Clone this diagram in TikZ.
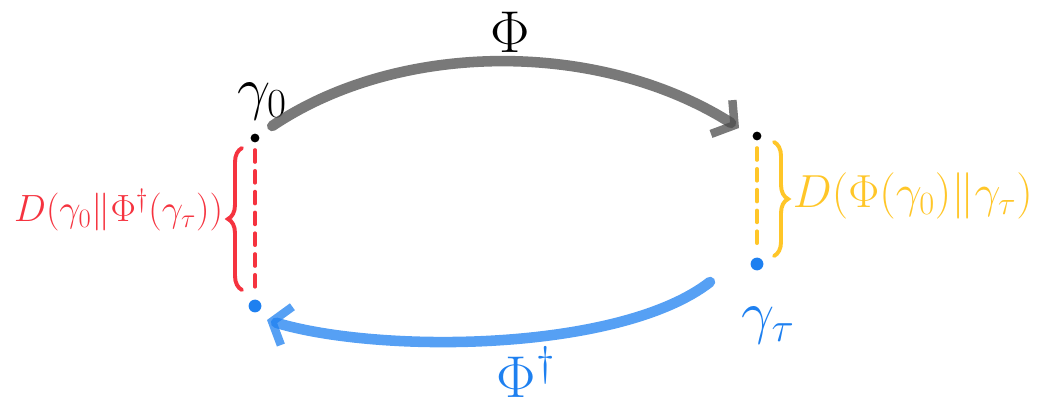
\RequirePackage{fix-cm}
\documentclass[tikz,border=0pt]{standalone}
\usetikzlibrary{arrows.meta,decorations.pathreplacing,positioning}
\definecolor{divred}{HTML}{F5333F}
\definecolor{divyellow}{HTML}{FFC628}
\definecolor{divblue}{HTML}{1E80F0}
\tikzset{
    blackdot/.style={circle,fill=black,inner sep=0pt,minimum size=0.22cm},
    bluedot/.style={circle,fill=divblue,inner sep=0pt,minimum size=0.32cm},
    chalk/.style={line width=7.5pt,line cap=round,opacity=0.75,
        -{Straight Barb[length=0.38cm,width=1.0cm,line width=6pt]}},
    gap/.style={line width=2.6pt,line cap=round,dash pattern=on 0.3cm off 0.22cm},
    curly/.style={line width=2.8pt,line cap=round,decorate,decoration={brace,amplitude=0.35cm}},
    biglbl/.style={font=\fontsize{42}{46}\selectfont},
    divlbl/.style={font=\fontsize{#1}{30}\selectfont}
}
\begin{document}
\begin{tikzpicture}
    \useasboundingbox (0,0) rectangle (26.05,10.25);
    % states
    \node[blackdot] (g0) at (6.375,6.8) {};
    \node[bluedot] (bg0) at (6.375,2.6) {};
    \node[blackdot] (pg0) at (18.925,6.85) {};
    \node[bluedot] (gt) at (18.925,3.65) {};
    \node[biglbl] (g0lbl) at (6.55,7.7) {$\gamma_0$};
    \node[biglbl,text=divblue] (gtlbl) at (19.2,2.1) {$\gamma_\tau$};
    % the two maps
    \draw[chalk,black!70] ([shift={(0.43,0.3)}]g0.center)
        .. controls (10,9.25) and (15,9.25) .. ([shift={(-0.45,0.2)}]pg0.center);
    \draw[chalk,divblue] ([shift={(-1.175,-0.45)}]gt.center)
        .. controls (15.5,1.45) and (9.5,1.4) .. ([shift={(0.3,-0.35)}]bg0.center);
    \node[biglbl] (phi) at (12.75,9.45) {$\Phi$};
    \node[biglbl,text=divblue] (phidag) at (13.15,0.95) {$\Phi^\dagger$};
    % divergences
    \draw[gap,divred] ([yshift=-0.3cm]g0.center) -- ([yshift=0.35cm]bg0.center);
    \draw[curly,divred] (6.05,3.0) -- (6.05,6.55);
    \node[divlbl=27,text=divred,anchor=east] (dleft) at (5.7,5.0)
        {$D(\gamma_0\|\Phi^\dagger(\gamma_\tau))$};
    \draw[gap,divyellow] ([yshift=-0.3cm]pg0.center) -- ([yshift=0.35cm]gt.center);
    \draw[curly,divyellow] (19.35,6.7) -- (19.35,3.85);
    \node[divlbl=33,text=divyellow,anchor=west] (dright) at (19.7,5.35)
        {$D(\Phi(\gamma_0)\|\gamma_\tau)$};
\end{tikzpicture}
\end{document}
